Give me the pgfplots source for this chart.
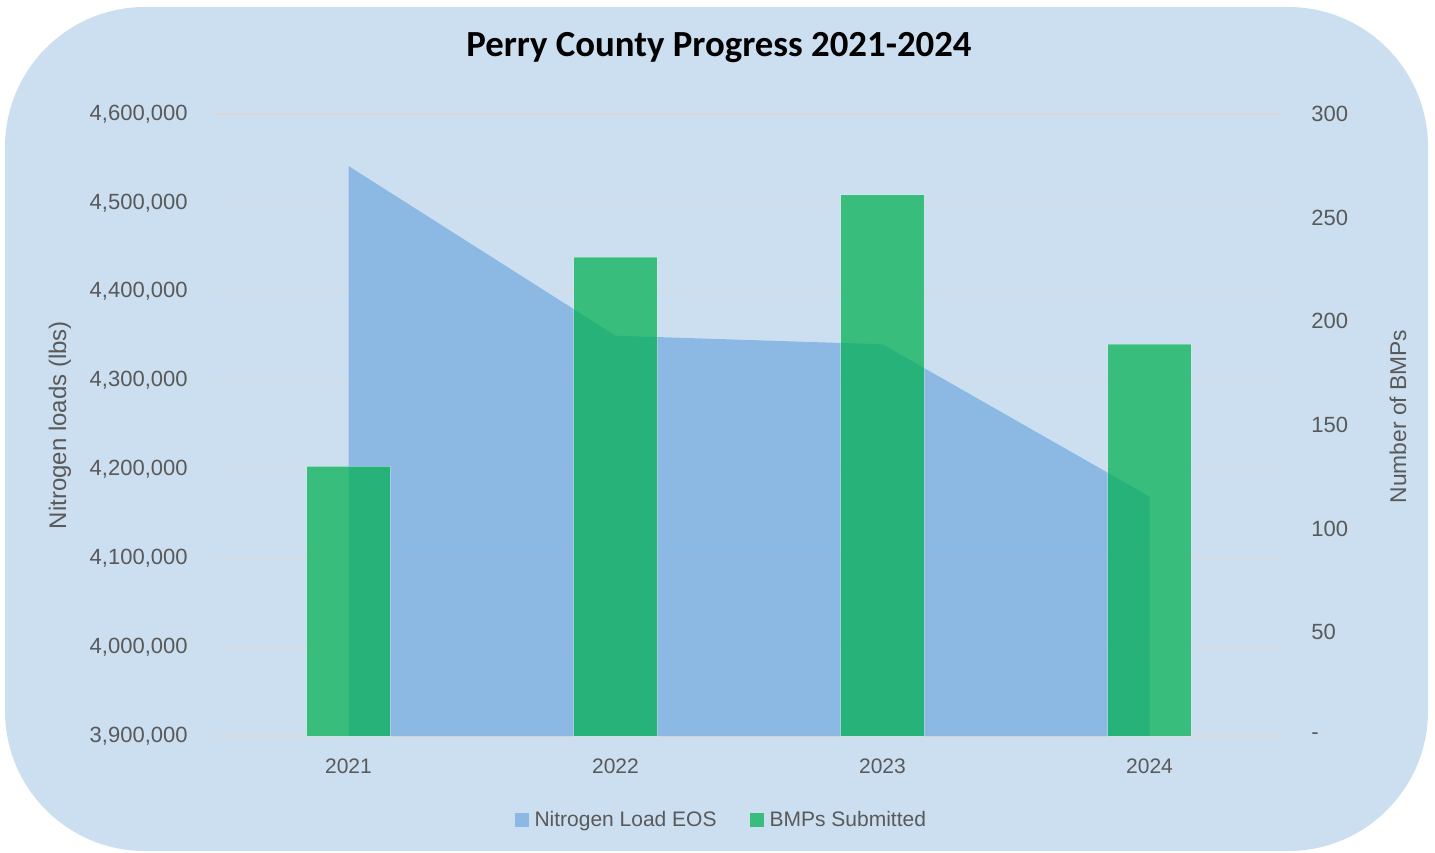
\documentclass[border=0pt]{standalone}
\usepackage{fontspec}
\setmainfont{Liberation Sans}
\newfontfamily\titlefont{Carlito}
\usepackage{pgfplots}
\pgfplotsset{compat=1.18}
\definecolor{bgblue}{HTML}{CCDFF0}
\definecolor{areablue}{HTML}{4E95D9}
\definecolor{bargreen}{HTML}{00B050}
\definecolor{txtgrey}{HTML}{595959}
\definecolor{gridgrey}{HTML}{D9D9D9}
\pgfplotsset{sqlegend/.style={legend image code/.code={\fill[##1, draw=none] (0pt,-3.5pt) rectangle (7pt,3.5pt);}}}

\begin{document}
\begin{tikzpicture}
\useasboundingbox (0,0) rectangle (717.5pt,426pt);
\fill[white] (0,0) rectangle (717.5pt,426pt);
\fill[bgblue, rounded corners=70pt] (2.5pt,0.5pt) rectangle (714pt,422.5pt);
\node[font=\titlefont\bfseries\fontsize{18.4}{22}\selectfont, anchor=base, inner sep=0pt] at (359.5pt,397.7pt) {Perry County Progress 2021-2024};

\begin{axis}[
  at={(107.5pt,58pt)}, anchor=south west,
  scale only axis, width=534pt, height=311pt,
  xmin=-0.5, xmax=3.5, ymin=3900000, ymax=4600000,
  xtick={0,1,2,3}, xticklabels={2021,2022,2023,2024},
  ytick={3900000,4000000,4100000,4200000,4300000,4400000,4500000,4600000},
  yticklabels={{3,900,000},{4,000,000},{4,100,000},{4,200,000},{4,300,000},{4,400,000},{4,500,000},{4,600,000}},
  scaled y ticks=false,
  axis line style={draw=none}, major tick length=0pt, tick style={draw=none},
  ymajorgrids, grid style={gridgrey, line width=0.6pt},
  yticklabel style={inner sep=0pt, xshift=-13.5pt, text=txtgrey, font=\fontsize{11}{13}\selectfont},
  xticklabel style={inner sep=0pt, yshift=-11pt, text=txtgrey, font=\fontsize{10.5}{12}\selectfont},
  ylabel={Nitrogen loads (lbs)},
  ylabel style={at={(axis description cs:-0.1451,0.5)}, anchor=center, text=txtgrey, font=\fontsize{12}{14}\selectfont},
]
\addplot[fill=areablue, fill opacity=0.5, draw=none]
  coordinates {(0,3900000) (0,4541500) (1,4350500) (2,4340800) (3,4169500) (3,3900000)};
\end{axis}

\begin{axis}[
  at={(107.5pt,58pt)}, anchor=south west,
  scale only axis, width=534pt, height=311pt,
  xmin=-0.5, xmax=3.5, ymin=0, ymax=300,
  axis y line*=right, axis x line=none,
  ytick={0,50,100,150,200,250,300}, yticklabels={-,50,100,150,200,250,300},
  axis line style={draw=none}, major tick length=0pt, tick style={draw=none},
  yticklabel style={inner sep=0pt, anchor=west, xshift=14pt, text=txtgrey, font=\fontsize{11}{13}\selectfont},
  ylabel={Number of BMPs},
  ylabel style={at={(axis description cs:1.1077,0.5137)}, anchor=center, text=txtgrey, font=\fontsize{11.4}{13}\selectfont},
  ybar, bar width=0.312,
  legend style={at={(0.4745,-0.135)}, anchor=center, draw=none, fill=none,
    legend columns=2, font=\fontsize{10.5}{12}\selectfont, text=txtgrey,
    nodes={inner sep=1.5pt},
    /tikz/every odd column/.append style={column sep=1.5pt},
    /tikz/every even column/.append style={column sep=15pt}},
]
\addlegendimage{fill=areablue, fill opacity=0.5, draw=none, sqlegend}
\addlegendentry{Nitrogen Load EOS}
\addplot[fill=bargreen, fill opacity=0.72, draw=white, draw opacity=0.3, line width=0.5pt, sqlegend]
  coordinates {(0,130) (1,231) (2,261) (3,189)};
\addlegendentry{BMPs Submitted}
\end{axis}
\end{tikzpicture}
\end{document}
